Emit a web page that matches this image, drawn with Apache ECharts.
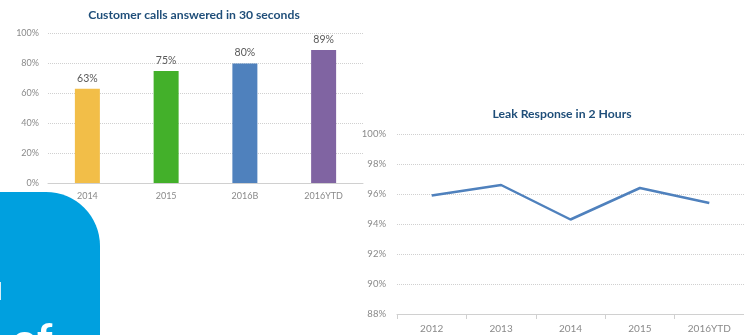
<!DOCTYPE html>
<html>
<head>
<meta charset="utf-8">
<script src="https://cdn.jsdelivr.net/npm/echarts@6/dist/echarts.min.js"></script>
<style>
  html, body { margin: 0; padding: 0; background: #fff; }
  #chart { width: 744px; height: 335px; }
</style>
</head>
<body>
<div id="chart"></div>
<script>
// Customer calls answered within 30 seconds (percent)
const callCategories = ['2014', '2015', '2016B', '2016YTD'];
const callValues = [63, 75, 80, 89];
const callColors = ['#F2BE48', '#43B02A', '#4F81BD', '#8064A2'];

// Leak response within 2 hours (percent)
const leakCategories = ['2012', '2013', '2014', '2015', '2016YTD'];
const leakValues = [95.9, 96.6, 94.3, 96.4, 95.4];

const FONT = 'Lato, "Open Sans", sans-serif';
const axisGray = '#8a8a8a';
const gridGray = '#d0d0d0';

const chart = echarts.init(document.getElementById('chart'), null, { renderer: 'canvas' });

chart.setOption({
  backgroundColor: '#ffffff',
  animation: false,
  title: [
    {
      text: 'Customer calls answered in 30 seconds',
      left: 189, top: 4, textAlign: 'center',
      textStyle: { fontFamily: FONT, fontSize: 12.2, fontWeight: 'bold', color: '#1F4E79' }
    },
    {
      text: 'Leak Response in 2 Hours',
      left: 557, top: 103, textAlign: 'center',
      textStyle: { fontFamily: FONT, fontSize: 12.2, fontWeight: 'bold', color: '#1F4E79' }
    }
  ],
  grid: [
    { left: 48, top: 33.5, width: 315, height: 149.5, containLabel: false },
    { left: 397, top: 134, width: 350, height: 180, containLabel: false }
  ],
  xAxis: [
    {
      type: 'category', gridIndex: 0, data: callCategories,
      axisLine: { lineStyle: { color: gridGray } },
      axisTick: { show: false },
      axisLabel: { color: axisGray, fontFamily: FONT, fontSize: 9, margin: 9 }
    },
    {
      type: 'category', gridIndex: 1, data: leakCategories,
      axisLine: { lineStyle: { color: gridGray } },
      axisTick: { show: true, length: 5, lineStyle: { color: gridGray } },
      axisLabel: { color: axisGray, fontFamily: FONT, fontSize: 10, margin: 10 }
    }
  ],
  yAxis: [
    {
      type: 'value', gridIndex: 0, min: 0, max: 100, interval: 20,
      axisLine: { show: false }, axisTick: { show: false },
      axisLabel: { formatter: '{value}%', color: axisGray, fontFamily: FONT, fontSize: 9, margin: 9 },
      splitLine: { lineStyle: { color: gridGray, type: [1, 1] } }
    },
    {
      type: 'value', gridIndex: 1, min: 88, max: 100, interval: 2,
      axisLine: { show: false }, axisTick: { show: false },
      axisLabel: { formatter: '{value}%', color: axisGray, fontFamily: FONT, fontSize: 9.5, margin: 11 },
      splitLine: { lineStyle: { color: gridGray, type: [1, 1] } }
    }
  ],
  series: [
    {
      type: 'bar', xAxisIndex: 0, yAxisIndex: 0,
      barWidth: 25,
      data: callValues.map((v, i) => ({ value: v, itemStyle: { color: callColors[i] } })),
      label: {
        show: true, position: 'top', distance: 5,
        formatter: '{c}%', color: '#595959', fontFamily: FONT, fontSize: 10.5
      }
    },
    {
      type: 'line', xAxisIndex: 1, yAxisIndex: 1,
      data: leakValues,
      symbol: 'none',
      lineStyle: { color: '#4F81BD', width: 2.5 }
    }
  ],
  graphic: [
    {
      type: 'rect', z: 100,
      shape: { x: 0, y: 192, width: 100, height: 200, r: [0, 54, 0, 0] },
      style: { fill: '#00A0DF' }
    },
    {
      type: 'rect', z: 101,
      shape: { x: 0, y: 282, width: 1, height: 18 },
      style: { fill: '#d9eef8' }
    },
    {
      type: 'text', z: 102,
      x: 12, y: 341,
      style: {
        text: 'of', verticalAlign: 'middle', align: 'left',
        fill: '#ffffff', fontFamily: 'Lato, "Open Sans", sans-serif',
        fontSize: 44, fontWeight: 'bold'
      }
    }
  ]
});
</script>
</body>
</html>
